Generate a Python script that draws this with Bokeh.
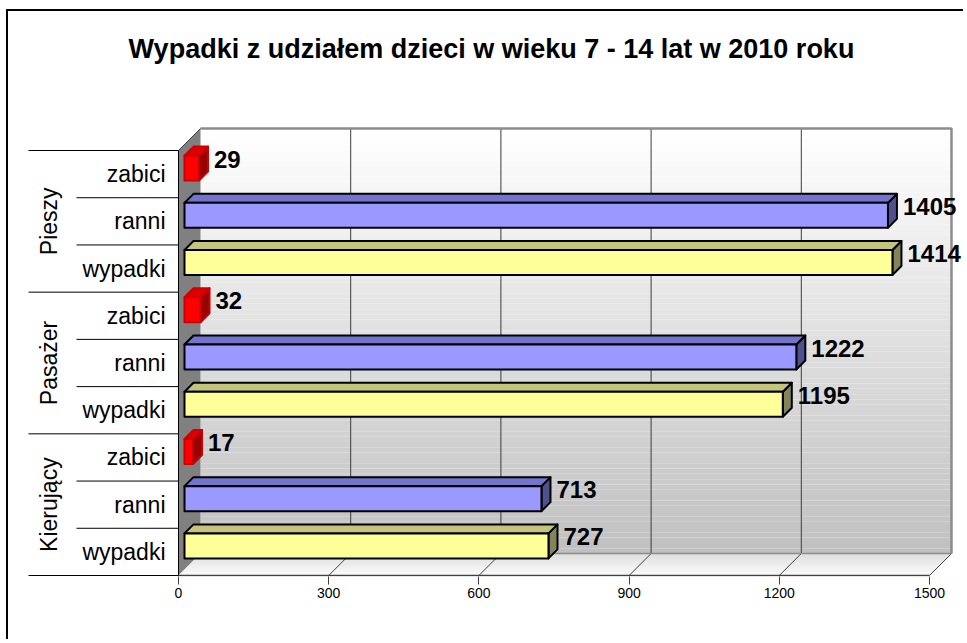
import numpy as np
from bokeh.plotting import figure
from bokeh.models import Range1d, FixedTicker, ColumnDataSource
from bokeh.core.properties import value
from bokeh.embed import file_html
from bokeh.resources import INLINE

# ---------------- data ----------------
title_text = "Wypadki z udziałem dzieci w wieku 7 - 14 lat w 2010 roku"
groups = ["Pieszy", "Pasażer", "Kierujący"]
subcats = ["zabici", "ranni", "wypadki"]
pieszy = [29, 1405, 1414]
pasazer = [32, 1222, 1195]
kierujacy = [17, 713, 727]
x_ticks = [0, 300, 600, 900, 1200, 1500]
x_max = 1500

# ---------------- styles / layout (pixels) ----------------
W, H = 957, 630
FLOOR_PX = 564         # floor front edge from frame top
FRAME_H = FLOOR_PX + 1
ZERO_PX = 170          # position of value 0 from frame left
AXIS_PX = 751          # pixel length of the value axis
CAT_PX = 425           # pixel height of the category axis
DEPTH = 22             # 3-D wall depth
BAR_FRONT = 6          # bar front face depth
BAR_DEPTH = 9          # bar thickness in depth
BAR_H = 25             # bar front face height
GROUP_SEP = 150        # length of group separator lines
SUB_SEP = 102          # length of sub-category separator lines
CAT_LABEL_GAP = 13
GROUP_LABEL_X = 130
TITLE_X = 313
TITLE_Y = 527
LABEL_DX = 15
LABEL_DY = -15

face_colors = {
    "zabici": ("#ff0000", "#dd0000", "#990000", "#cc0000"),
    "ranni": ("#9999ff", "#7474cc", "#50508f", "#000000"),
    "wypadki": ("#ffff99", "#c4c47c", "#84845a", "#000000"),
}

PXX = AXIS_PX / x_max
n_slots = len(groups) * len(subcats)
PY = CAT_PX / n_slots


def dx(px):
    return px / PXX


def dy(px):
    return px / PY


p = figure(
    width=W, height=H,
    x_range=Range1d(-dx(ZERO_PX), dx(W - ZERO_PX)),
    y_range=Range1d(-dy(FRAME_H - FLOOR_PX), dy(FLOOR_PX)),
    output_backend="svg", toolbar_location=None, y_axis_type=None,
    min_border_left=0, min_border_right=0, min_border_top=0,
    min_border_bottom=H - FRAME_H,
)
p.styles = {"margin-left": "6px", "margin-top": "9px",
            "border-left": "2px solid #000000", "border-top": "2px solid #000000"}
p.outline_line_color = None
p.grid.visible = False
p.background_fill_color = "white"
p.border_fill_color = "white"

ax = p.xaxis[0]
ax.ticker = FixedTicker(ticks=x_ticks)
ax.axis_line_color = None
ax.major_tick_out = 8
ax.major_tick_in = 0
ax.minor_tick_line_color = None
ax.major_tick_line_color = "#404040"
ax.major_label_text_font = "Liberation Sans"
ax.major_label_text_font_size = "14px"
ax.major_label_text_color = "black"
ax.major_label_standoff = 3

DX, DY = dx(DEPTH), dy(DEPTH)
top_y = n_slots

# back wall gradient
N = 80
bottoms, tops, cols = [], [], []
for i in range(N):
    t0, t1 = i / N, (i + 1) / N
    bottoms.append(DY + t0 * top_y)
    tops.append(DY + t1 * top_y)
    g = int(round(192 + (255 - 192) * (t0 + 0.5 / N)))
    cols.append("#%02x%02x%02x" % (g, g, g))
p.quad(left=DX, right=x_max + DX, bottom=bottoms, top=tops, fill_color=cols, line_color=None)

# left wall
p.patch([0, DX, DX, 0], [0, DY, top_y + DY, top_y], fill_color="#808080", line_color=None)

# floor gradient
N2 = 22
fx, fy, fc = [], [], []
for i in range(N2):
    d0, d1 = DEPTH * i / N2, DEPTH * (i + 1) / N2
    fx.append([dx(d0), x_max + dx(d0), x_max + dx(d1), dx(d1)])
    fy.append([dy(d0), dy(d0), dy(d1), dy(d1)])
    g = int(round(250 - (250 - 212) * ((i + 0.5) / N2)))
    fc.append("#%02x%02x%02x" % (g, g, g))
p.patches(fx, fy, fill_color=fc, line_color=None)

# grid lines on back wall and floor
inner = x_ticks[1:-1]
p.segment(x0=[v + DX for v in inner], y0=DY, x1=[v + DX for v in inner], y1=top_y + DY,
          line_color="#3c3c3c", line_width=1)
p.segment(x0=x_ticks[1:], y0=0, x1=[v + DX for v in x_ticks[1:]], y1=DY,
          line_color="#404040", line_width=1)

# wall edges
p.line([DX, x_max + DX, x_max + DX], [top_y + DY, top_y + DY, DY], line_color="#8c8c8c", line_width=2.5)
p.line([DX, x_max + DX], [DY, DY], line_color="#8c8c8c", line_width=1.5)
p.line([0, DX], [top_y, top_y + DY], line_color="#404040", line_width=1)
p.line([0, x_max], [0, 0], line_color="#404040", line_width=1.5)
p.line([0, 0], [0, top_y], line_color="#000000", line_width=1)

# category separators
sep_x0, sep_y = [], []
for k in range(n_slots + 1):
    sep_y.append(k)
    sep_x0.append(-dx(GROUP_SEP) if k % len(subcats) == 0 else -dx(SUB_SEP))
p.segment(x0=sep_x0, y0=sep_y, x1=0, y1=sep_y, line_color="#000000", line_width=1)

# bars
all_vals = [pieszy, pasazer, kierujacy]
fr = dict(l=[], r=[], b=[], t=[], c=[], lc=[])
tp = dict(xs=[], ys=[], c=[], lc=[])
sd = dict(xs=[], ys=[], c=[], lc=[])
lab = dict(x=[], y=[], text=[])
cat_lab = dict(y=[], text=[])
grp_lab = dict(y=[], text=[])
for gi, (gname, vals) in enumerate(zip(groups, all_vals)):
    grp_lab["y"].append(n_slots - (gi + 0.5) * len(subcats))
    grp_lab["text"].append(gname)
    for si, (sname, v) in enumerate(zip(subcats, vals)):
        center = n_slots - (gi * len(subcats) + si) - 0.5
        cat_lab["y"].append(center)
        cat_lab["text"].append(sname)
        front, topc, sidec, linec = face_colors[sname]
        x0 = dx(BAR_FRONT)
        x1 = v + dx(BAR_FRONT)
        yc = center + dy(BAR_FRONT)
        yb, yt = yc - dy(BAR_H / 2), yc + dy(BAR_H / 2)
        ox, oy = dx(BAR_DEPTH), dy(BAR_DEPTH)
        fr["l"].append(x0); fr["r"].append(x1); fr["b"].append(yb); fr["t"].append(yt)
        fr["c"].append(front); fr["lc"].append(linec)
        tp["xs"].append([x0, x1, x1 + ox, x0 + ox]); tp["ys"].append([yt, yt, yt + oy, yt + oy])
        tp["c"].append(topc); tp["lc"].append(linec)
        sd["xs"].append([x1, x1 + ox, x1 + ox, x1]); sd["ys"].append([yb, yb + oy, yt + oy, yt])
        sd["c"].append(sidec); sd["lc"].append(linec)
        lab["x"].append(v); lab["y"].append(center); lab["text"].append(str(v))

p.patches("xs", "ys", source=ColumnDataSource(sd), fill_color="c", line_color="lc",
          line_width=2, line_join="round")
p.patches("xs", "ys", source=ColumnDataSource(tp), fill_color="c", line_color="lc",
          line_width=2, line_join="round")
p.quad(left="l", right="r", bottom="b", top="t", source=ColumnDataSource(fr),
       fill_color="c", line_color="lc", line_width=2, line_join="round")

# value labels
p.text(x="x", y="y", text="text", source=ColumnDataSource(lab),
       text_font=value("Liberation Sans"), text_font_style="bold", text_font_size="24px",
       text_color="black", text_align="left", text_baseline="middle",
       x_offset=BAR_FRONT + LABEL_DX, y_offset=LABEL_DY)

# category labels
p.text(x=-dx(CAT_LABEL_GAP), y="y", text="text", source=ColumnDataSource(cat_lab),
       text_font=value("Liberation Sans"), text_font_size="23px", text_color="black",
       text_align="right", text_baseline="middle")
p.text(x=-dx(GROUP_LABEL_X), y="y", text="text", source=ColumnDataSource(grp_lab),
       text_font=value("Liberation Sans"), text_font_size="23px", text_color="black",
       text_align="center", text_baseline="middle", angle=np.pi / 2)

# title
p.text(x=[dx(TITLE_X)], y=[dy(TITLE_Y)], text=[title_text],
       text_font=value("Liberation Sans"), text_font_style="bold", text_font_size="27px",
       text_color="black", text_align="center", text_baseline="middle")

open("out.html", "w").write(file_html(p, INLINE))
